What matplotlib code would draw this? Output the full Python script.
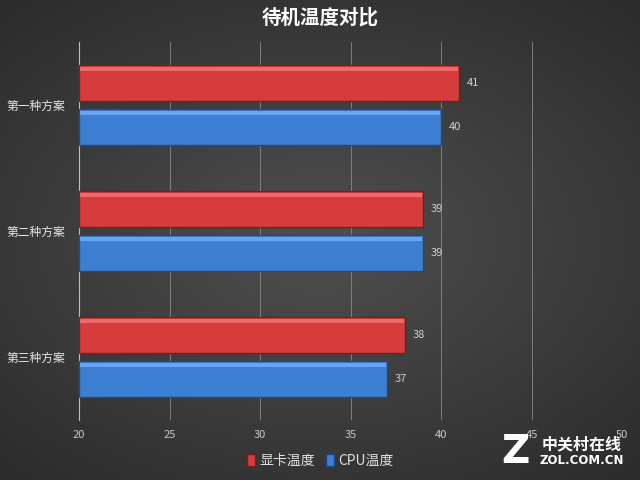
import numpy as np
import matplotlib.pyplot as plt
from matplotlib.patches import Patch

plt.rcParams['font.family'] = ['Noto Sans CJK SC', 'DejaVu Sans']

categories = ['第一种方案', '第二种方案', '第三种方案']
gpu_temp = [41, 39, 38]
cpu_temp = [40, 39, 37]
xticks = [20, 25, 30, 35, 40, 45, 50]

fig = plt.figure(figsize=(6.4, 4.8), dpi=100)

# radial gradient background, dark grey
bg = fig.add_axes([0, 0, 1, 1])
yy, xx = np.mgrid[-1:1:240j, -1:1:320j]
r = np.sqrt((xx * 0.85) ** 2 + (yy * 0.95) ** 2)
g = np.clip(0.31 - 0.11 * r, 0.14, 0.31)
bg.imshow(np.dstack([g, g, g]), aspect='auto', extent=[0, 1, 0, 1])
bg.axis('off')

ax = fig.add_axes([79 / 640, 1 - 420 / 480, (622 - 79) / 640, (420 - 42) / 480])
ax.patch.set_alpha(0)

y = np.arange(len(categories)) + 0.5
h = 0.29
off = 0.175
ax.barh(y - off, [v - 20 for v in gpu_temp], left=20, height=h,
        color='#d63c3c', edgecolor='#7e1c1c', linewidth=1, zorder=3)
ax.barh(y + off, [v - 20 for v in cpu_temp], left=20, height=h,
        color='#3d7fd2', edgecolor='#1f4a86', linewidth=1, zorder=3)
# top highlight for a bevelled look
ax.barh(y - off - h * 0.39, [v - 20.1 for v in gpu_temp], left=20.05, height=h * 0.1,
        color='#ec6a6a', linewidth=0, zorder=4)
ax.barh(y + off - h * 0.39, [v - 20.1 for v in cpu_temp], left=20.05, height=h * 0.1,
        color='#68a5ee', linewidth=0, zorder=4)

for yi, v in zip(y - off, gpu_temp):
    ax.text(v + 0.45, yi, str(v), color='#d0d0d0', fontsize=8, va='center', ha='left')
for yi, v in zip(y + off, cpu_temp):
    ax.text(v + 0.45, yi, str(v), color='#d0d0d0', fontsize=8, va='center', ha='left')

ax.set_xlim(20, 50)
ax.set_ylim(3, 0)
ax.set_xticks(xticks)
ax.set_yticks(y)
ax.set_yticklabels(categories)
ax.tick_params(axis='x', colors='#c8c8c8', labelsize=8, length=0, pad=7)
ax.tick_params(axis='y', colors='#e6e6e6', labelsize=8.5, length=0, pad=10)
ax.grid(axis='x', color='#8a8a8a', linewidth=0.6, zorder=0)
for s in ['top', 'right', 'bottom']:
    ax.spines[s].set_visible(False)
ax.spines['left'].set_color('#bdbdbd')
ax.spines['left'].set_linewidth(0.8)

fig.text(0.5, 1 - 18 / 480, '待机温度对比', color='white', fontsize=14, fontweight='bold',
         ha='center', va='center')

# legend
handles = [Patch(facecolor='#d63c3c', edgecolor='#7e1c1c'),
           Patch(facecolor='#3d7fd2', edgecolor='#1f4a86')]
fig.legend(handles, ['显卡温度', 'CPU温度'], loc='center', bbox_to_anchor=(0.5, 1 - 461 / 480),
           ncol=2, frameon=False, fontsize=10, labelcolor='#e0e0e0',
           handlelength=0.6, handleheight=0.9, handletextpad=0.3, columnspacing=0.8)

# watermark
fig.text(515 / 640, 1 - 452 / 480, 'Z', color='white', fontsize=28, fontweight='bold',
         ha='center', va='center', family='DejaVu Sans')
fig.text(582 / 640, 1 - 444 / 480, '中关村在线', color='white', fontsize=11.5, fontweight='bold',
         ha='center', va='center')
fig.text(582 / 640, 1 - 460 / 480, 'ZOL.COM.CN', color='white', fontsize=8.5, fontweight='bold',
         ha='center', va='center', family='DejaVu Sans')

fig.savefig('out.png', dpi=100)
